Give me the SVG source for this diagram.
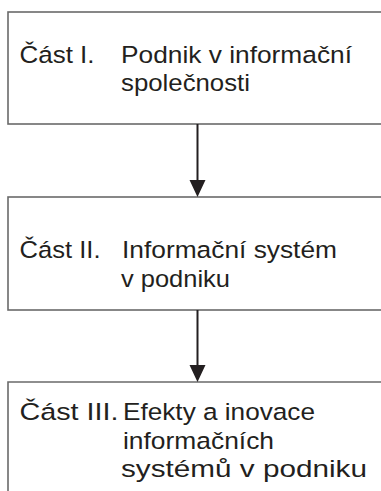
<svg xmlns="http://www.w3.org/2000/svg" width="381" height="491" viewBox="0 0 381 491">
<style>
.box{fill:#fff;stroke:#6a6a6a;stroke-width:1.6}
.t{font-family:"Liberation Sans",Arial,Helvetica,sans-serif;font-size:24.5px;fill:#231f20}
.con{stroke:#231f20;stroke-width:2;fill:none}
.head{fill:#231f20}
</style>
<rect width="381" height="491" fill="#fff"/>
<g id="node1">
<rect class="box" x="8" y="12" width="400" height="112"/>
<text class="t" x="19.5" y="62.5" textLength="75" lengthAdjust="spacingAndGlyphs">Část I.</text>
<text class="t" x="121" y="62.5" textLength="231" lengthAdjust="spacingAndGlyphs">Podnik v informační</text>
<text class="t" x="121" y="90.5" textLength="129" lengthAdjust="spacingAndGlyphs">společnosti</text>
</g>
<g id="node2">
<rect class="box" x="8" y="197" width="400" height="113"/>
<text class="t" x="19.5" y="257.5" textLength="81" lengthAdjust="spacingAndGlyphs">Část II.</text>
<text class="t" x="122" y="257.5" textLength="215" lengthAdjust="spacingAndGlyphs">Informační systém</text>
<text class="t" x="121" y="286.5" textLength="109" lengthAdjust="spacingAndGlyphs">v podniku</text>
</g>
<g id="node3">
<path class="box" d="M408,382 H8 V495"/>
<text class="t" x="19.5" y="420" textLength="99" lengthAdjust="spacingAndGlyphs">Část III.</text>
<text class="t" x="123" y="420" textLength="192" lengthAdjust="spacingAndGlyphs">Efekty a inovace</text>
<text class="t" x="123" y="448.5" textLength="151" lengthAdjust="spacingAndGlyphs">informačních</text>
<text class="t" x="121" y="477" textLength="246" lengthAdjust="spacingAndGlyphs">systémů v podniku</text>
</g>
<g id="connectors">
<line class="con" x1="197.5" y1="124" x2="197.5" y2="182"/>
<polygon class="head" points="189.5,180 205.5,180 197.5,197"/>
<line class="con" x1="197.5" y1="310" x2="197.5" y2="367"/>
<polygon class="head" points="189.5,365 205.5,365 197.5,382"/>
</g>
</svg>
